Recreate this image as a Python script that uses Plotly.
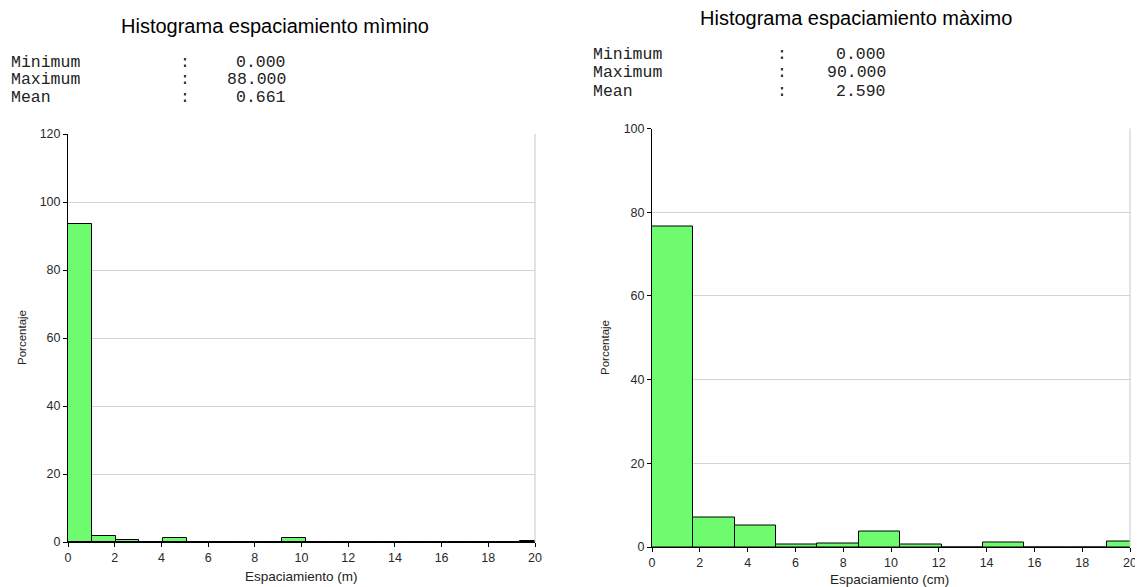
import plotly.graph_objects as go

# ---------------- data ----------------
left_title = "Histograma espaciamiento mìmino"
right_title = "Histograma espaciamiento màximo"

left_stats_labels = ["Minimum", "Maximum", "Mean"]
left_stats_values = ["0.000", "88.000", "0.661"]
right_stats_labels = ["Minimum", "Maximum", "Mean"]
right_stats_values = ["0.000", "90.000", "2.590"]

left_bin_width = 1.018
left_percent = [93.4, 1.8, 0.5, 0.1, 1.3, 0.0, 0.05, 0.05, 0.0, 1.3,
                0.0, 0.0, 0.0, 0.0, 0.05, 0.0, 0.0, 0.0, 0.0, 0.3]

right_bin_width = 90 / 52
right_percent = [76.6, 7.1, 5.2, 0.6, 0.9, 3.7, 0.5, 0.0, 1.0, 0.0, 0.0, 1.4]

x_ticks = [0, 2, 4, 6, 8, 10, 12, 14, 16, 18, 20]
left_y_ticks = [0, 20, 40, 60, 80, 100, 120]
right_y_ticks = [0, 20, 40, 60, 80, 100]

left_xlabel = "Espaciamiento (m)"
right_xlabel = "Espaciamiento (cm)"
ylabel = "Porcentaje"

# ---------------- figure ----------------
# the page body has an 8px margin; the figure fills the visible area after it
OFF = 8
W, H = 1143 - OFF, 587 - OFF
BAR_COLOR = "#6efc6e"
GRID = "#d4d4d4"
SANS = "Liberation Sans, Arial, sans-serif"
MONO = "Liberation Mono, Courier New, monospace"
TEXT = "#222222"

fig = go.Figure()

lx = [(i + 0.5) * left_bin_width for i in range(len(left_percent))]
rx = [(i + 0.5) * right_bin_width for i in range(len(right_percent))]

fig.add_trace(go.Bar(x=lx, y=left_percent, width=left_bin_width,
                     marker=dict(color=BAR_COLOR, line=dict(color="black", width=1)),
                     xaxis="x", yaxis="y", showlegend=False, hoverinfo="x+y"))
fig.add_trace(go.Bar(x=rx, y=right_percent, width=right_bin_width,
                     marker=dict(color=BAR_COLOR, line=dict(color="black", width=1)),
                     xaxis="x2", yaxis="y2", showlegend=False, hoverinfo="x+y"))


def px_x(p):
    return (p - OFF) / W


def px_y(p):
    return 1 - (p - OFF) / H


axis_common = dict(showline=True, linecolor="black", linewidth=1,
                   ticks="outside", ticklen=4, tickcolor="black",
                   tickfont=dict(family=SANS, size=12.5, color="#2a2a2a"),
                   zeroline=False, automargin=False)

fig.update_layout(
    width=W, height=H,
    margin=dict(l=0, r=0, t=0, b=0, autoexpand=False),
    paper_bgcolor="white", plot_bgcolor="white",
    bargap=0,
    xaxis=dict(domain=[px_x(68), px_x(535)], range=[0, 20], tickvals=x_ticks,
               showgrid=False, anchor="y", **axis_common),
    yaxis=dict(domain=[px_y(542), px_y(134)], range=[0, 120], tickvals=left_y_ticks,
               showgrid=True, gridcolor=GRID, anchor="x", **axis_common),
    xaxis2=dict(domain=[px_x(652), px_x(1130)], range=[0, 20], tickvals=x_ticks,
                showgrid=False, anchor="y2", **axis_common),
    yaxis2=dict(domain=[px_y(547), px_y(128.5)], range=[0, 100], tickvals=right_y_ticks,
                showgrid=True, gridcolor=GRID, anchor="x2", **axis_common),
)

# right-side borders of plot areas
for xr, yr in (("x", "y"), ("x2", "y2")):
    fig.add_shape(type="line", xref=f"{xr} domain", yref=f"{yr} domain",
                  x0=1, x1=1, y0=0, y1=1, line=dict(color="#c8c8c8", width=1))

ann = []


def add_text(text, x, y, size, family=SANS, xanchor="center", angle=0, color=TEXT):
    ann.append(dict(text=text, x=px_x(x), y=px_y(y), xref="paper", yref="paper",
                    showarrow=False, textangle=angle,
                    font=dict(family=family, size=size, color=color),
                    xanchor=xanchor, yanchor="middle"))


# titles
add_text(left_title, 275, 26, 20, color="black")
add_text(right_title, 856, 18, 20, color="black")

# stats blocks: label, colon, right-aligned value
left_rows_y = [62, 79.5, 97]
right_rows_y = [54, 72, 91]
for lab, val, yy in zip(left_stats_labels, left_stats_values, left_rows_y):
    add_text(lab, 9, yy, 16.5, family=MONO, xanchor="left")
    add_text(":", 185, yy, 16.5, family=MONO)
    add_text(val, 288, yy, 16.5, family=MONO, xanchor="right")
for lab, val, yy in zip(right_stats_labels, right_stats_values, right_rows_y):
    add_text(lab, 591, yy, 16.5, family=MONO, xanchor="left")
    add_text(":", 782, yy, 16.5, family=MONO)
    add_text(val, 888, yy, 16.5, family=MONO, xanchor="right")

# axis titles
add_text(ylabel, 22, 338, 11.5, angle=-90)
add_text(ylabel, 605, 348, 11.5, angle=-90)
add_text(left_xlabel, 301, 576, 13.5)
add_text(right_xlabel, 889, 579, 13.5)

fig.update_layout(annotations=ann)

fig.write_html("out.html")
